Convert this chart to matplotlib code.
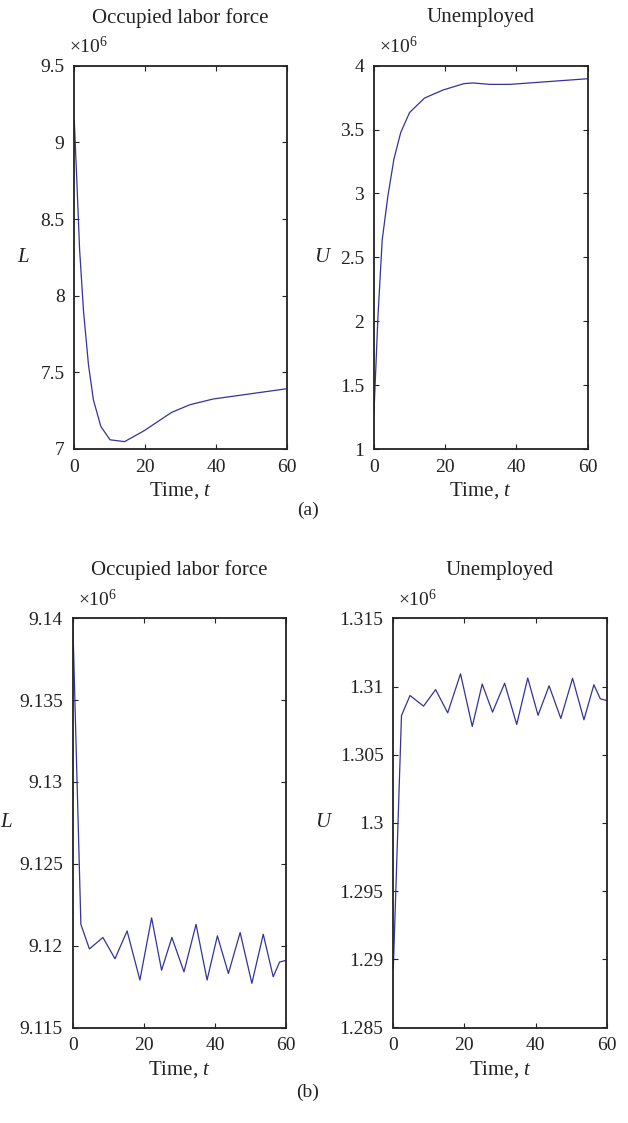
import numpy as np
import matplotlib
matplotlib.use("Agg")
import matplotlib.pyplot as plt
from matplotlib.ticker import FuncFormatter

plt.rcParams['font.family'] = ['Liberation Serif', 'DejaVu Serif']
plt.rcParams['mathtext.fontset'] = 'custom'
plt.rcParams['mathtext.rm'] = 'Liberation Serif'
plt.rcParams['mathtext.it'] = 'Liberation Serif:italic'

# (a) values, in millions
t_La = [0, 0.8, 1.5, 2.6, 4.0, 5.4, 7.5, 10.1, 14.2, 19.7, 27.5, 32.7, 39.2, 60]
L_a = [9.144, 8.70, 8.30, 7.90, 7.55, 7.32, 7.147, 7.06, 7.048, 7.119, 7.239, 7.289, 7.326, 7.393]
t_Ua = [0, 1.1, 2.3, 3.9, 5.6, 7.5, 10.0, 14.2, 19.4, 25.3, 27.8, 32.5, 38.2, 60]
U_a = [1.29, 2.03, 2.636, 2.98, 3.27, 3.477, 3.634, 3.747, 3.81, 3.86, 3.865, 3.854, 3.854, 3.898]

# (b) values, in millions
t_b = [0, 2.3, 4.7, 8.5, 11.9, 15.3, 18.9, 22.2, 25.0, 27.9, 31.3, 34.7, 37.8, 40.7,
       43.8, 47.1, 50.4, 53.6, 56.4, 58.2, 60]
L_b = [9.14, 9.1213, 9.1198, 9.1205, 9.1192, 9.1209, 9.1179, 9.1217, 9.1185, 9.1205,
       9.1184, 9.1213, 9.1179, 9.1206, 9.1183, 9.1208, 9.1177, 9.1207, 9.1181, 9.1190, 9.1191]
U_b = [1.2893, 1.30787, 1.30934, 1.30856, 1.30977, 1.30807, 1.31093, 1.30707, 1.31018,
       1.30812, 1.31024, 1.30722, 1.31062, 1.30789, 1.31005, 1.30766, 1.3106, 1.30756,
       1.31013, 1.3091, 1.30897]

titles = ["Occupied labor force", "Unemployed"]
ylims = [(7e6, 9.5e6), (1e6, 4e6), (9.115e6, 9.14e6), (1.285e6, 1.315e6)]
yticks = [np.arange(7, 9.51, 0.5), np.arange(1, 4.01, 0.5),
          np.arange(9.115, 9.1401, 0.005), np.arange(1.285, 1.3151, 0.005)]

W, H = 628, 1123
fig = plt.figure(figsize=(W / 100, H / 100), dpi=100)

# axes boxes in pixels: left, top, right, bottom
boxes = [(74.3, 65.7, 286.7, 449), (374, 65.7, 587.7, 449),
         (72.7, 618.3, 286, 1027.5), (393.3, 618.3, 606.7, 1027.5)]
series = [(t_La, L_a), (t_Ua, U_a), (t_b, L_b), (t_b, U_b)]
ynames = ["L", "U", "L", "U"]
line_col = '#33339a'
fmt = FuncFormatter(lambda v, p: '%g' % round(v / 1e6, 4))

for i in range(4):
    l, tp, r, b = boxes[i]
    ax = fig.add_axes([l / W, 1 - b / H, (r - l) / W, (b - tp) / H])
    x, y = series[i]
    ax.plot(x, np.array(y) * 1e6, color=line_col, lw=0.9)
    ax.set_xlim(0, 60)
    ax.set_ylim(*ylims[i])
    ax.set_xticks([0, 20, 40, 60])
    ax.set_yticks(yticks[i] * 1e6)
    ax.yaxis.set_major_formatter(fmt)
    ax.tick_params(direction='in', length=3.5, width=0.8, top=True, right=True,
                   labelsize=14, colors='#222222')
    ax.tick_params(axis='x', pad=7)
    ax.tick_params(axis='y', pad=7)
    for s in ax.spines.values():
        s.set_linewidth(1.3)
        s.set_color('#222222')
    cx = (l + r) / 2
    fig.text(cx / W, 1 - (tp - 48) / H, titles[i % 2], ha='center', va='center',
             fontsize=15, color='#222222')
    fig.text(cx / W, 1 - (b + 42) / H, r'Time, $\mathit{t}$', ha='center', va='center',
             fontsize=15, color='#222222')
    fig.text((l + 5 if i else l - 5) / W, 1 - (tp - 19) / H, r'$\times 10^{6}$',
             ha='left', va='center', fontsize=14, color='#222222')
    ylx = [23, 322, 6, 323][i]
    fig.text(ylx / W, 1 - ((tp + b) / 2) / H, ynames[i], ha='center', va='center',
             fontsize=15, style='italic', color='#222222')

fig.text(308 / W, 1 - 510 / H, '(a)', ha='center', va='center', fontsize=14, color='#222222')
fig.text(308 / W, 1 - 1092 / H, '(b)', ha='center', va='center', fontsize=14, color='#222222')

fig.savefig('out.png', dpi=100)
